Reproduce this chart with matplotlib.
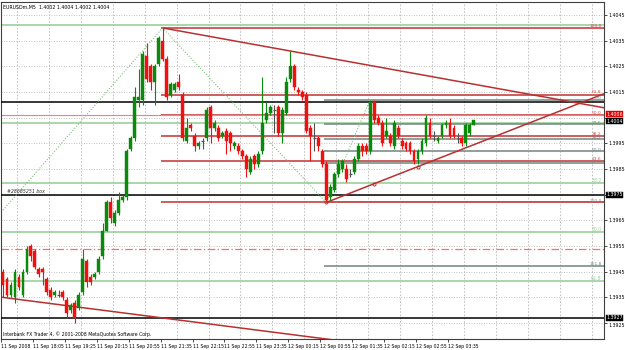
import numpy as np
import matplotlib
matplotlib.use("Agg")
import matplotlib.pyplot as plt
from matplotlib.patches import Rectangle

# ---- data (EURUSDm M5) ----
opens = [1.3945, 1.3942, 1.3936, 1.3935, 1.3943, 1.3936, 1.3945, 1.3955, 1.3953, 1.3946,
         1.3946, 1.3942, 1.3938, 1.3936, 1.3936, 1.3937, 1.3934, 1.3930, 1.3933, 1.3931,
         1.3937, 1.3949, 1.3943, 1.3943, 1.3945, 1.3951, 1.3961, 1.3972, 1.3964, 1.3968,
         1.3973, 1.3974, 1.3993, 1.3997, 1.4012, 1.4012, 1.4029, 1.4025, 1.4019, 1.4026,
         1.4035, 1.4028, 1.4014, 1.4016, 1.4019, 1.4014, 1.3996, 1.4002, 1.3998, 1.3994,
         1.3996, 1.3997, 1.4009, 1.4001, 1.4001, 1.3998, 1.4000, 1.3999, 1.3994, 1.3994,
         1.3992, 1.3990, 1.3984, 1.3990, 1.3987, 1.3992, 1.4004, 1.4007, 1.4008, 1.4009,
         1.3999, 1.4007, 1.4020, 1.4025, 1.4016, 1.4015, 1.4014, 1.4001, 1.3997, 1.3997,
         1.3992, 1.3987, 1.3974, 1.3977, 1.3983, 1.3985, 1.3985, 1.3983, 1.3984, 1.3989,
         1.3994, 1.3994, 1.3992, 1.4011, 1.4005, 1.4003, 1.3998, 1.3998, 1.3994, 1.4001,
         1.3996, 1.3995, 1.3995, 1.3992, 1.3989, 1.3992, 1.3995, 1.4003, 1.3998, 1.3996,
         1.3998, 1.4002, 1.4003, 1.4001, 1.3997, 1.3997, 1.3995, 1.3999, 1.4002]
highs = [1.3946, 1.3943, 1.3941, 1.3946, 1.3944, 1.3946, 1.3955, 1.3956, 1.3954, 1.3947,
         1.3947, 1.3943, 1.3939, 1.3938, 1.3938, 1.3938, 1.3935, 1.3933, 1.3934, 1.3937,
         1.3954, 1.3950, 1.3944, 1.3945, 1.3951, 1.3964, 1.3973, 1.3974, 1.3969, 1.3976,
         1.3975, 1.3993, 1.3998, 1.4017, 1.4024, 1.4031, 1.4034, 1.4026, 1.4026, 1.4037,
         1.4040, 1.4029, 1.4019, 1.4019, 1.4022, 1.4015, 1.4005, 1.4003, 1.3999, 1.3996,
         1.3997, 1.4009, 1.4010, 1.4004, 1.4002, 1.4000, 1.4001, 1.4000, 1.3996, 1.3995,
         1.3993, 1.3991, 1.3990, 1.3991, 1.3992, 1.4021, 1.4011, 1.4010, 1.4010, 1.4010,
         1.4009, 1.4021, 1.4031, 1.4026, 1.4017, 1.4016, 1.4015, 1.4002, 1.4003, 1.3998,
         1.3993, 1.3988, 1.3979, 1.3984, 1.3989, 1.3989, 1.3987, 1.3985, 1.3990, 1.3995,
         1.3995, 1.3995, 1.4012, 1.4012, 1.4006, 1.4004, 1.4005, 1.3999, 1.4004, 1.4002,
         1.3997, 1.3996, 1.3996, 1.3993, 1.3993, 1.3997, 1.4006, 1.4005, 1.4000, 1.3998,
         1.4003, 1.4004, 1.4005, 1.4002, 1.3999, 1.3998, 1.4003, 1.4003, 1.4004]
lows = [1.3935, 1.3935, 1.3935, 1.3933, 1.3938, 1.3935, 1.3944, 1.3949, 1.3946, 1.3943,
        1.3940, 1.3936, 1.3934, 1.3935, 1.3935, 1.3934, 1.3927, 1.3929, 1.3925, 1.3930,
        1.3936, 1.3939, 1.3940, 1.3942, 1.3944, 1.3950, 1.3961, 1.3964, 1.3963, 1.3967,
        1.3972, 1.3973, 1.3992, 1.3996, 1.4009, 1.4010, 1.4019, 1.4016, 1.4010, 1.4025,
        1.4027, 1.4012, 1.4013, 1.4015, 1.4016, 1.3996, 1.3995, 1.4000, 1.3992, 1.3993,
        1.3993, 1.3996, 1.3995, 1.4000, 1.3996, 1.3997, 1.3991, 1.3992, 1.3993, 1.3991,
        1.3989, 1.3982, 1.3983, 1.3985, 1.3986, 1.3991, 1.4003, 1.4006, 1.3999, 1.3998,
        1.3995, 1.4006, 1.4019, 1.4016, 1.4014, 1.4012, 1.3999, 1.3988, 1.3992, 1.3992,
        1.3986, 1.3972, 1.3973, 1.3976, 1.3982, 1.3984, 1.3980, 1.3982, 1.3983, 1.3988,
        1.3990, 1.3991, 1.3991, 1.4003, 1.4002, 1.3994, 1.3997, 1.3994, 1.3993, 1.3997,
        1.3993, 1.3992, 1.3991, 1.3987, 1.3987, 1.3991, 1.3994, 1.3997, 1.3996, 1.3995,
        1.3997, 1.4001, 1.3997, 1.3997, 1.3995, 1.3994, 1.3994, 1.3998, 1.4002]
closes = [1.3940, 1.3936, 1.3940, 1.3945, 1.3939, 1.3945, 1.3954, 1.3951, 1.3947, 1.3944,
          1.3945, 1.3937, 1.3935, 1.3937, 1.3936, 1.3935, 1.3929, 1.3932, 1.3927, 1.3936,
          1.3950, 1.3941, 1.3941, 1.3944, 1.3950, 1.3961, 1.3972, 1.3966, 1.3968, 1.3973,
          1.3974, 1.3992, 1.3997, 1.4013, 1.4013, 1.4030, 1.4020, 1.4019, 1.4025, 1.4036,
          1.4028, 1.4013, 1.4018, 1.4018, 1.4017, 1.3997, 1.4001, 1.4001, 1.3994, 1.3995,
          1.3996, 1.4008, 1.4001, 1.4003, 1.3997, 1.3999, 1.3996, 1.3995, 1.3995, 1.3992,
          1.3990, 1.3985, 1.3989, 1.3987, 1.3991, 1.4003, 1.4007, 1.4009, 1.4008, 1.3999,
          1.4008, 1.4019, 1.4025, 1.4017, 1.4015, 1.4013, 1.4000, 1.3998, 1.3997, 1.3994,
          1.3987, 1.3973, 1.3978, 1.3983, 1.3987, 1.3988, 1.3981, 1.3983, 1.3989, 1.3994,
          1.3992, 1.3992, 1.4011, 1.4004, 1.4003, 1.3995, 1.4000, 1.3995, 1.4003, 1.3998,
          1.3994, 1.3993, 1.3992, 1.3988, 1.3992, 1.3996, 1.4005, 1.3998, 1.3998, 1.3997,
          1.4002, 1.4003, 1.3998, 1.3998, 1.3997, 1.3995, 1.4002, 1.4002, 1.4004]

time_labels = ["11 Sep 2008", "11 Sep 18:05", "11 Sep 19:25", "11 Sep 20:15", "11 Sep 20:55",
               "11 Sep 21:35", "11 Sep 22:15", "11 Sep 22:55", "11 Sep 23:35", "12 Sep 00:15",
               "12 Sep 00:55", "12 Sep 01:35", "12 Sep 02:15", "12 Sep 02:55", "12 Sep 03:35"]
price_ticks = [1.3925, 1.3935, 1.3945, 1.3955, 1.3965, 1.3975, 1.3985, 1.3995,
               1.4005, 1.4015, 1.4025, 1.4035, 1.4045]
hidden_ticks = [1.3975, 1.4005]   # covered by the price boxes

fib_levels = [0.0, 23.6, 38.2, 50.0, 61.8, 100.0]
# (bar where drawn from, price of 0%, price of 100%)
red_fib = (39.6, 1.3972, 1.4040)
gray_fib = (80.5, 1.4012, 1.3972)
green_fib = (-1, 1.4041, 1.3880)
gray_extra = [161.8]

black_lines = [1.4011, 1.3975, 1.3927]
alert_line = 1.4006
dashdot_line = 1.3954
bid = 1.4004

# trendlines as (bar, price) anchor pairs
trend_top = [(40, 1.4040), (72, 1.4031)]
trend_up = [(81, 1.3972), (104, 1.3986)]
trend_bottom = [(0, 1.3935), (20, 1.3931)]
zigzag = [(0, 1.3969), (40, 1.4040), (81, 1.3972), (92, 1.4012)]
up_marks = [81, 93, 104]

n = len(opens)
x = np.arange(n)
XL, XR = -0.125, 150.6
YB, YT = 1.39188, 1.40501

fig = plt.figure(figsize=(6.25, 3.5), dpi=100)
fig.patch.set_facecolor("white")
ax = fig.add_axes([1/625, 11/350, 603/625, 337/350])
ax.set_xlim(XL, XR)
ax.set_ylim(YB, YT)

# grid
for p in price_ticks:
    ax.axhline(p, color="#b0b0b0", lw=0.6, ls=(0, (1, 2)), zorder=0)
label_bars = np.arange(0, 8 * len(time_labels), 8)
for b in np.arange(4, 152, 8):
    ax.axvline(b - 0.5, color="#b8b8b8", lw=0.6, ls=(0, (2, 2)), zorder=0)

def fib_price(f, lvl):
    return f[1] + lvl / 100.0 * (f[2] - f[1])

# green fib
for lvl in [0.0, 23.6, 38.2, 50.0, 61.8]:
    p = fib_price(green_fib, lvl)
    ax.hlines(p, XL, XR, color="#9ccf9c", lw=1.2, zorder=1)
for lvl in [38.2, 50.0, 61.8]:
    ax.text(XR - 0.6, fib_price(green_fib, lvl), "%.1f" % lvl, fontsize=3.3,
            color="#9ccf9c", ha="right", va="bottom", zorder=6)

ax.axhline(dashdot_line, color="#ff6a6a", lw=0.9, ls=(0, (6, 2, 1, 2)), zorder=1)

# gray fib
for lvl in fib_levels + gray_extra:
    p = fib_price(gray_fib, lvl)
    ax.hlines(p, gray_fib[0], XR, color="#71857f", lw=1.1, zorder=2)
    if lvl != 61.8:
        ax.text(XR - 0.6, p - 0.00002, "%.1f" % lvl, fontsize=3.2, color="#7a8a88",
                ha="right", va="bottom", zorder=6)

# red fib
for lvl in fib_levels:
    p = fib_price(red_fib, lvl)
    ax.hlines(p, red_fib[0], XR, color="#cc5050", lw=1.3, zorder=2)
    if lvl > 0:
        ax.text(XR - 0.6, p + 0.00001, "%.1f" % lvl, fontsize=3.2, color="#cc5050",
                ha="right", va="bottom", zorder=6)

ax.axhline(alert_line, color="#ff7a7a", lw=0.8, zorder=2)
for p in black_lines:
    ax.axhline(p, color="black", lw=1.1, zorder=3)
ax.text(1, black_lines[1] + 0.00003, "#28685251 box", fontsize=3.3, color="#303030",
        ha="left", va="bottom", style="italic", zorder=6)

def ext_line(pts, x0, x1, **kw):
    (a, pa), (b, pb) = pts
    s = (pb - pa) / (b - a)
    ax.plot([x0, x1], [pa + s * (x0 - a), pa + s * (x1 - a)], **kw)

ext_line(trend_top, trend_top[0][0], XR, color="#b83030", lw=1.1, zorder=4)
ext_line(trend_up, trend_up[0][0], XR, color="#b83030", lw=1.1, zorder=4)
ext_line(trend_bottom, XL, 90, color="#b83030", lw=1.1, zorder=4)
s_up = (trend_up[1][1] - trend_up[0][1]) / (trend_up[1][0] - trend_up[0][0])
for b in up_marks:
    ax.plot(b, trend_up[0][1] + s_up * (b - trend_up[0][0]), "o", ms=2.2, mfc="none",
            mec="#b83030", mew=0.7, zorder=4)

zx = [p[0] for p in zigzag]
zy = [p[1] for p in zigzag]
ax.plot(zx, zy, color="#7fbf7f", lw=0.8, ls=(0, (1, 1.5)), zorder=4)

# candles
for i in range(n):
    o, h, l, c = opens[i], highs[i], lows[i], closes[i]
    if c > o:
        col = "#0a8a0a"
    elif c < o:
        col = "#f01010"
    else:
        col = "#505050"
    ax.vlines(i, l, h, color=col, lw=0.8, zorder=5)
    lo, hi = min(o, c), max(o, c)
    if hi - lo < 0.00004:
        ax.hlines(o, i - 0.35, i + 0.35, color=col, lw=0.9, zorder=5)
    else:
        ax.add_patch(Rectangle((i - 0.36, lo), 0.72, hi - lo, facecolor=col,
                               edgecolor=col, lw=0.3, zorder=5))

# axes look
for sp in ax.spines.values():
    sp.set_color("#404040")
    sp.set_linewidth(0.8)
ax.yaxis.tick_right()
ax.set_yticks(price_ticks)
ax.set_yticklabels(["" if p in hidden_ticks else "%.4f" % p for p in price_ticks],
                   fontsize=3.4)
ax.tick_params(axis="y", length=2, width=0.5, pad=1.5)
ax.set_xticks(label_bars - 0.5)
ax.set_xticklabels(time_labels, fontsize=3.3, ha="left")
ax.tick_params(axis="x", length=2.5, width=0.5, pad=0.8)
for t in ax.get_yticklabels():
    if t.get_text() == "1.3925":
        t.set_va("top")

# price boxes at right
tr = matplotlib.transforms.blended_transform_factory(ax.transAxes, ax.transData)
for p, fc, dy in [(alert_line, "#e00000", 0.00004), (bid, "black", -0.00004),
                  (black_lines[1], "black", 0), (black_lines[2], "black", 0)]:
    ax.text(1.004, p + dy, "%.4f" % p, transform=tr, fontsize=3.4, color="white",
            ha="left", va="center", zorder=10,
            bbox=dict(boxstyle="square,pad=0.1", fc=fc, ec=fc, lw=0.3))

ax.text(0.004, 0.992, "EURUSDm,M5  %.4f %.4f %.4f %.4f" % (opens[-1], highs[-1], lows[-1], closes[-1]),
        transform=ax.transAxes, fontsize=3.4, ha="left", va="top", zorder=10)
ax.text(0.004, 0.006, "Interbank FX Trader 4, \u00a9 2001-2008 MetaQuotes Software Corp.",
        transform=ax.transAxes, fontsize=3.3, ha="left", va="bottom", zorder=10)

fig.savefig("out.png", dpi=100, facecolor="white")
